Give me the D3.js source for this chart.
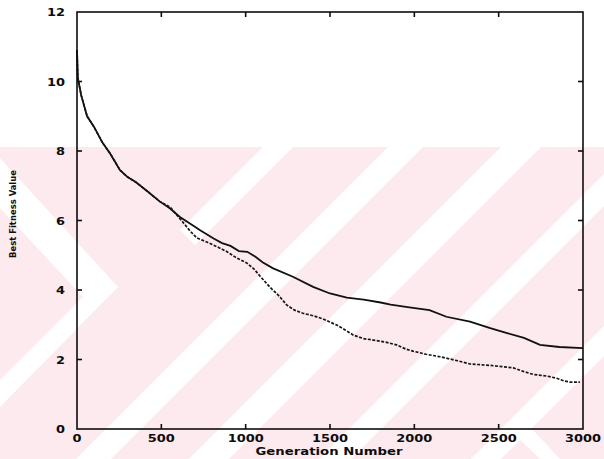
<!DOCTYPE html>
<html>
<head>
<meta charset="utf-8">
<script src="https://cdn.jsdelivr.net/npm/d3@7"></script>
<style>
    body { margin: 0; background: #fff; }
    svg { display: block; }
    .tick-label { font-family: "DejaVu Sans", sans-serif; font-weight: bold; font-size: 10px; fill: #0d0d0d; }
    .axis-title { font-family: "DejaVu Sans", sans-serif; font-weight: bold; font-size: 10px; fill: #0d0d0d; }
    .y-title { font-family: "Liberation Sans Narrow", "DejaVu Sans Condensed", sans-serif; font-weight: bold; font-size: 9px; fill: #111; }
</style>
</head>
<body>
<div class="container"></div>
<script>
const width = 604;
const height = 459;
const margin = { top: 12, right: 21, bottom: 30, left: 77 };

const xTicks = [0, 500, 1000, 1500, 2000, 2500, 3000];
const yTicks = [0, 2, 4, 6, 8, 10, 12];
const xTitle = 'Generation Number';
const yTitle = 'Best Fitness Value';

// solid run: [generation, best fitness]
const solidGen = [0, 5, 25, 60, 100, 150, 200, 255, 300, 350, 415, 490, 550, 610, 690, 730, 810, 860, 910, 960, 1010, 1060, 1100, 1160, 1280, 1400, 1500, 1600, 1700, 1800, 1860, 1960, 2090, 2190, 2330, 2450, 2550, 2650, 2745, 2860, 3000];
const solidVal = [10.9, 10.1, 9.6, 9.0, 8.7, 8.25, 7.9, 7.45, 7.25, 7.1, 6.85, 6.55, 6.35, 6.1, 5.85, 5.72, 5.48, 5.35, 5.27, 5.12, 5.1, 4.95, 4.8, 4.63, 4.38, 4.09, 3.9, 3.78, 3.72, 3.64, 3.58, 3.51, 3.42, 3.23, 3.09, 2.9, 2.76, 2.62, 2.42, 2.36, 2.33];

// dashed run
const dashedGen = [0, 5, 25, 60, 100, 150, 200, 255, 300, 350, 415, 490, 553, 628, 670, 710, 770, 828, 890, 947, 1006, 1050, 1085, 1144, 1200, 1243, 1290, 1340, 1400, 1458, 1540, 1590, 1639, 1700, 1755, 1830, 1895, 1950, 1992, 2070, 2152, 2250, 2331, 2449, 2587, 2650, 2706, 2790, 2844, 2890, 2923, 2982];
const dashedVal = [10.9, 10.1, 9.6, 9.0, 8.7, 8.25, 7.9, 7.45, 7.25, 7.1, 6.85, 6.55, 6.38, 5.95, 5.7, 5.5, 5.38, 5.25, 5.1, 4.92, 4.78, 4.6, 4.4, 4.08, 3.82, 3.57, 3.42, 3.33, 3.26, 3.17, 2.99, 2.85, 2.7, 2.6, 2.56, 2.5, 2.42, 2.3, 2.24, 2.15, 2.08, 1.97, 1.87, 1.83, 1.76, 1.65, 1.57, 1.52, 1.46, 1.38, 1.35, 1.35];

const svg = d3.select('.container')
    .append('svg')
    .attr('width', width)
    .attr('height', height);

// faint pink watermark behind the plot (scanned page decoration)
function drawWatermark() {
    const top = 147;
    const g = svg.append('g');
    g.append('rect')
        .attr('x', 0).attr('y', top)
        .attr('width', width).attr('height', height - top)
        .attr('fill', '#fdeaee');
    // white "/" bands given as x + y = c ranges
    const band = (c0, c1) => [[c0 - top, top], [c1 - top, top], [c1 - height, height], [c0 - height, height]];
    const shapes = [
        band(535, 570),
        band(648, 688),
        band(778, 810),
        band(930, 960),
        [[263, top], [293, top], [195, 245], [180, 230]],
        [[0, 158], [118, 287], [0, 407], [0, 380], [83, 297], [0, 208]],
        [[517, 413], [560, height], [540, height], [510, 430]],
    ];
    g.selectAll('polygon')
        .data(shapes)
        .enter()
        .append('polygon')
        .attr('points', d => d.map(p => p.join(',')).join(' '))
        .attr('fill', '#fff');
}
drawWatermark();

const x = d3.scaleLinear().domain([0, 3000]).range([margin.left, width - margin.right]);
const y = d3.scaleLinear().domain([0, 12]).range([height - margin.bottom, margin.top]);

const line = d3.line()
    .x(d => x(d[0]))
    .y(d => y(d[1]));

svg.append('path')
    .datum(d3.zip(solidGen, solidVal))
    .attr('d', line)
    .attr('fill', 'none')
    .attr('stroke', '#111')
    .attr('stroke-width', 1.8);

svg.append('path')
    .datum(d3.zip(dashedGen, dashedVal))
    .attr('d', line)
    .attr('fill', 'none')
    .attr('stroke', '#161616')
    .attr('stroke-width', 1.7)
    .attr('stroke-dasharray', '3,1.5');

// frame with inward ticks on all four sides
const tickLen = 5;
const frame = svg.append('g').attr('stroke', '#0d0d0d').attr('stroke-width', 1.6);
frame.append('rect')
    .attr('x', x(0)).attr('y', y(12))
    .attr('width', x(3000) - x(0)).attr('height', y(0) - y(12))
    .attr('fill', 'none');

xTicks.slice(1, -1).forEach(t => {
    frame.append('line').attr('x1', x(t)).attr('x2', x(t)).attr('y1', y(0)).attr('y2', y(0) - tickLen);
    frame.append('line').attr('x1', x(t)).attr('x2', x(t)).attr('y1', y(12)).attr('y2', y(12) + tickLen);
});
yTicks.slice(1, -1).forEach(t => {
    frame.append('line').attr('x1', x(0)).attr('x2', x(0) + tickLen).attr('y1', y(t)).attr('y2', y(t));
    frame.append('line').attr('x1', x(3000)).attr('x2', x(3000) - tickLen).attr('y1', y(t)).attr('y2', y(t));
});

// tick labels: wide, squat digits
const digitWidth = 9;
svg.selectAll('.xlab')
    .data(xTicks)
    .enter()
    .append('text')
    .attr('class', 'tick-label')
    .attr('x', d => x(d))
    .attr('y', y(0) + 13)
    .attr('text-anchor', 'middle')
    .attr('textLength', d => String(d).length * digitWidth)
    .attr('lengthAdjust', 'spacingAndGlyphs')
    .text(d => d);

svg.selectAll('.ylab')
    .data(yTicks)
    .enter()
    .append('text')
    .attr('class', 'tick-label')
    .attr('x', x(0) - 12)
    .attr('y', d => y(d) + 4)
    .attr('text-anchor', 'end')
    .attr('textLength', d => String(d).length * digitWidth)
    .attr('lengthAdjust', 'spacingAndGlyphs')
    .text(d => d);

svg.append('text')
    .attr('class', 'axis-title')
    .attr('x', 329)
    .attr('y', height - 4)
    .attr('text-anchor', 'middle')
    .attr('textLength', 147)
    .attr('lengthAdjust', 'spacingAndGlyphs')
    .text(xTitle);

svg.append('text')
    .attr('class', 'y-title')
    .attr('transform', 'translate(16,214) rotate(-90)')
    .attr('text-anchor', 'middle')
    .attr('textLength', 88)
    .attr('lengthAdjust', 'spacingAndGlyphs')
    .text(yTitle);
</script>
</body>
</html>
